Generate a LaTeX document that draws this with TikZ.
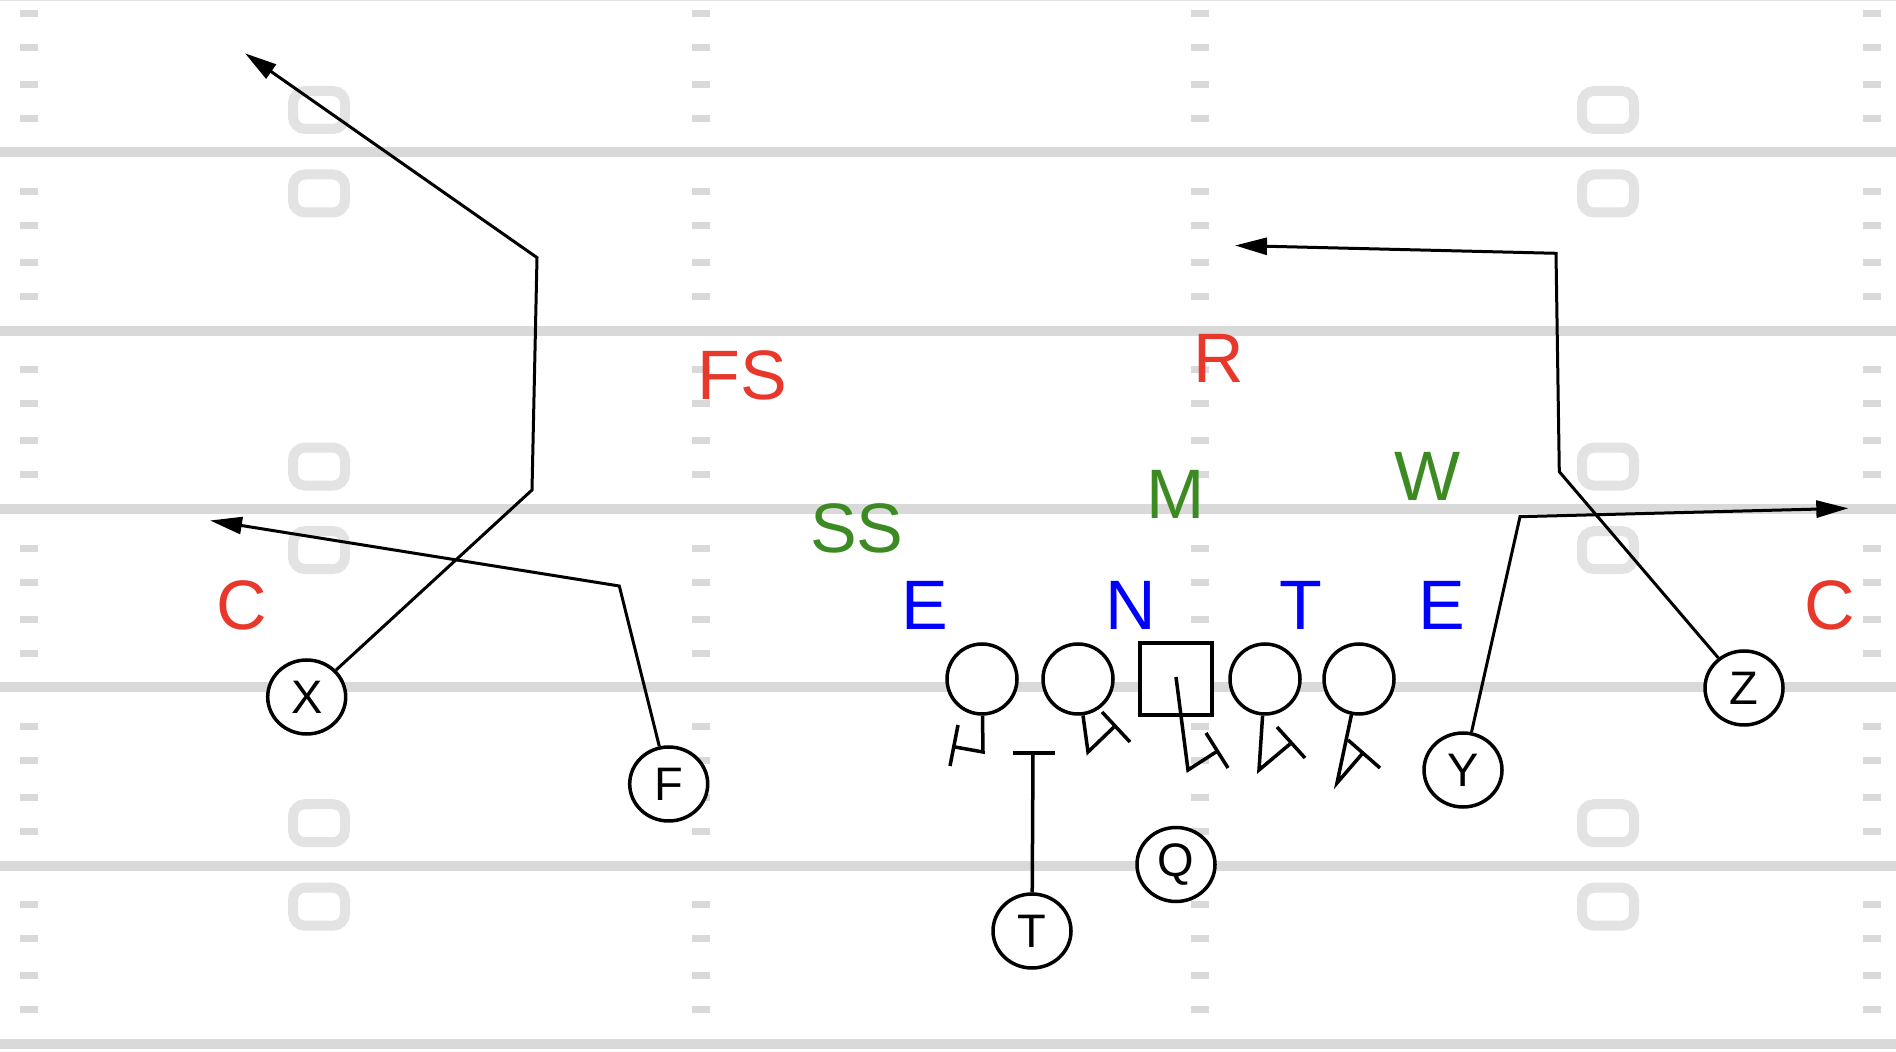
\documentclass[tikz,border=0pt]{standalone}
\usepackage{fontspec}
\setmainfont{Liberation Sans}
\usetikzlibrary{arrows.meta,shapes.geometric}
\definecolor{fieldgray}{HTML}{D9D9D9}
\definecolor{numgray}{HTML}{E3E3E3}
\definecolor{dred}{HTML}{E8382B}
\definecolor{dgreen}{HTML}{3B8A22}
\definecolor{dblue}{HTML}{0000FF}
\begin{document}
\begin{tikzpicture}[x=0.5pt,y=-0.5pt,
  skill/.style={ellipse,draw,fill=white,line width=1.75pt,minimum width=39pt,minimum height=37pt,inner sep=0pt,font=\fontsize{23.5}{26}\selectfont},
  lineman/.style={circle,draw,fill=white,line width=1.75pt,minimum size=35pt,inner sep=0pt},
  ctrbox/.style={rectangle,draw,fill=white,line width=2pt,minimum size=35.75pt,inner sep=0pt},
  deflabel/.style={inner sep=0pt,font=\fontsize{35}{40}\selectfont},
  route/.style={line width=1.5pt,line join=miter},
  arrowroute/.style={route,-{Triangle[length=16pt,width=8.5pt]}},
  block/.style={line width=1.75pt,line join=miter},
  fieldline/.style={fieldgray,line width=5pt},
  yardnum/.style={numgray,line width=5pt,rounded corners=6pt}
]
\useasboundingbox (0,0) rectangle (1896,1052);
\fill[white] (0,0) rectangle (1896,1052);
\draw[gray!20,line width=0.75pt] (0,0.75) -- (1896,0.75);
% field lines
\foreach \k in {0,...,5} {\draw[fieldline] (0,{152.5+178.3*\k}) -- (1896,{152.5+178.3*\k});}
% hash marks
\foreach \k in {-1,...,4} {
  \foreach \d in {39,73,110,144} {
    \foreach \x in {29,701,1200,1872} {
      \fill[fieldgray] ({\x-9},{152.5+178.3*\k+\d-3.5}) rectangle ({\x+9},{152.5+178.3*\k+\d+3.5});
    }
  }
}
% yard numbers
\foreach \x in {319,1608} {
  \foreach \L in {152.5,509.1,865.7} {
    \draw[yardnum] ({\x-26},{\L-42.5-19}) rectangle ({\x+26},{\L-42.5+19});
    \draw[yardnum] ({\x-26},{\L+41-19}) rectangle ({\x+26},{\L+41+19});
  }
}
% defense labels
\node[deflabel,text=dred] (cl) at (241.7,605.5) {C};
\node[deflabel,text=dred] (cr) at (1829.7,605.5) {C};
\node[deflabel,text=dred] (fs) at (742.5,375) {FS};
\node[deflabel,text=dred] (r) at (1219,358.7) {R};
\node[deflabel,text=dgreen] (ss) at (856.7,528) {SS};
\node[deflabel,text=dgreen] (m) at (1175.4,494.6) {M};
\node[deflabel,text=dgreen] (w) at (1427.5,476) {W};
\node[deflabel,text=dblue] (el) at (925,605.5) {E};
\node[deflabel,text=dblue] (n) at (1130.6,605.5) {N};
\node[deflabel,text=dblue] (t) at (1301,605.5) {T};
\node[deflabel,text=dblue] (er) at (1442,605.5) {E};
% coordinates
\coordinate (xa) at (532,490);
\coordinate (xb) at (537,257.6);
\coordinate (xc) at (245,53.3);
\coordinate (fa) at (619.3,586);
\coordinate (fb) at (210,520.5);
\coordinate (ya) at (1520,516.7);
\coordinate (yb) at (1848.3,508.3);
\coordinate (za) at (1559.3,471.7);
\coordinate (zb) at (1556,253.3);
\coordinate (zc) at (1235,245.5);
\coordinate (tba) at (1033,753);
\coordinate (tbl) at (1012.7,753);
\coordinate (tbr) at (1055,753);
% blocks
\coordinate (b1a) at (983,752);  \coordinate (b1b) at (955,747);  \coordinate (b1l) at (958,725);  \coordinate (b1r) at (950,766);
\coordinate (b2a) at (1088,752); \coordinate (b2b) at (1114,727); \coordinate (b2l) at (1102,712); \coordinate (b2r) at (1130,742);
\coordinate (b3s) at (1176,677); \coordinate (b3a) at (1188,770); \coordinate (b3b) at (1216,752); \coordinate (b3l) at (1206,733); \coordinate (b3r) at (1228,768);
\coordinate (b4a) at (1259,770); \coordinate (b4b) at (1290,744); \coordinate (b4l) at (1277,727); \coordinate (b4r) at (1305,758);
\coordinate (b5a) at (1337,783); \coordinate (b5b) at (1362,754); \coordinate (b5l) at (1348,740); \coordinate (b5r) at (1380,768);
% offense
\node[lineman] (ol1) at (982,679) {};
\node[lineman] (ol2) at (1078,679) {};
\node[ctrbox] (oc) at (1176,679) {};
\node[lineman] (ol4) at (1265,679) {};
\node[lineman] (ol5) at (1359,679) {};
\node[skill] (X) at (306.7,697) {X};
\node[skill] (F) at (668.7,784) {F};
\node[skill] (Y) at (1463,770) {Y};
\node[skill] (Z) at (1744,688) {Z};
\node[skill] (tb) at (1032,931) {T};
\node[skill] (Q) at (1176,864.5) {Q};
% routes
\draw[arrowroute] (X) -- (xa) -- (xb) -- (xc);
\draw[arrowroute] (F) -- (fa) -- (fb);
\draw[arrowroute] (Y) -- (ya) -- (yb);
\draw[arrowroute] (Z) -- (za) -- (zb) -- (zc);
\draw[block] (tb) -- (tba);
\draw[block] (tbl) -- (tbr);
\draw[block] (ol1) -- (b1a) -- (b1b); \draw[block] (b1l) -- (b1r);
\draw[block] (ol2) -- (b2a) -- (b2b); \draw[block] (b2l) -- (b2r);
\draw[block] (b3s) -- (b3a) -- (b3b); \draw[block] (b3l) -- (b3r);
\draw[block] (ol4) -- (b4a) -- (b4b); \draw[block] (b4l) -- (b4r);
\draw[block] (ol5) -- (b5a) -- (b5b); \draw[block] (b5l) -- (b5r);
\end{tikzpicture}
\end{document}
